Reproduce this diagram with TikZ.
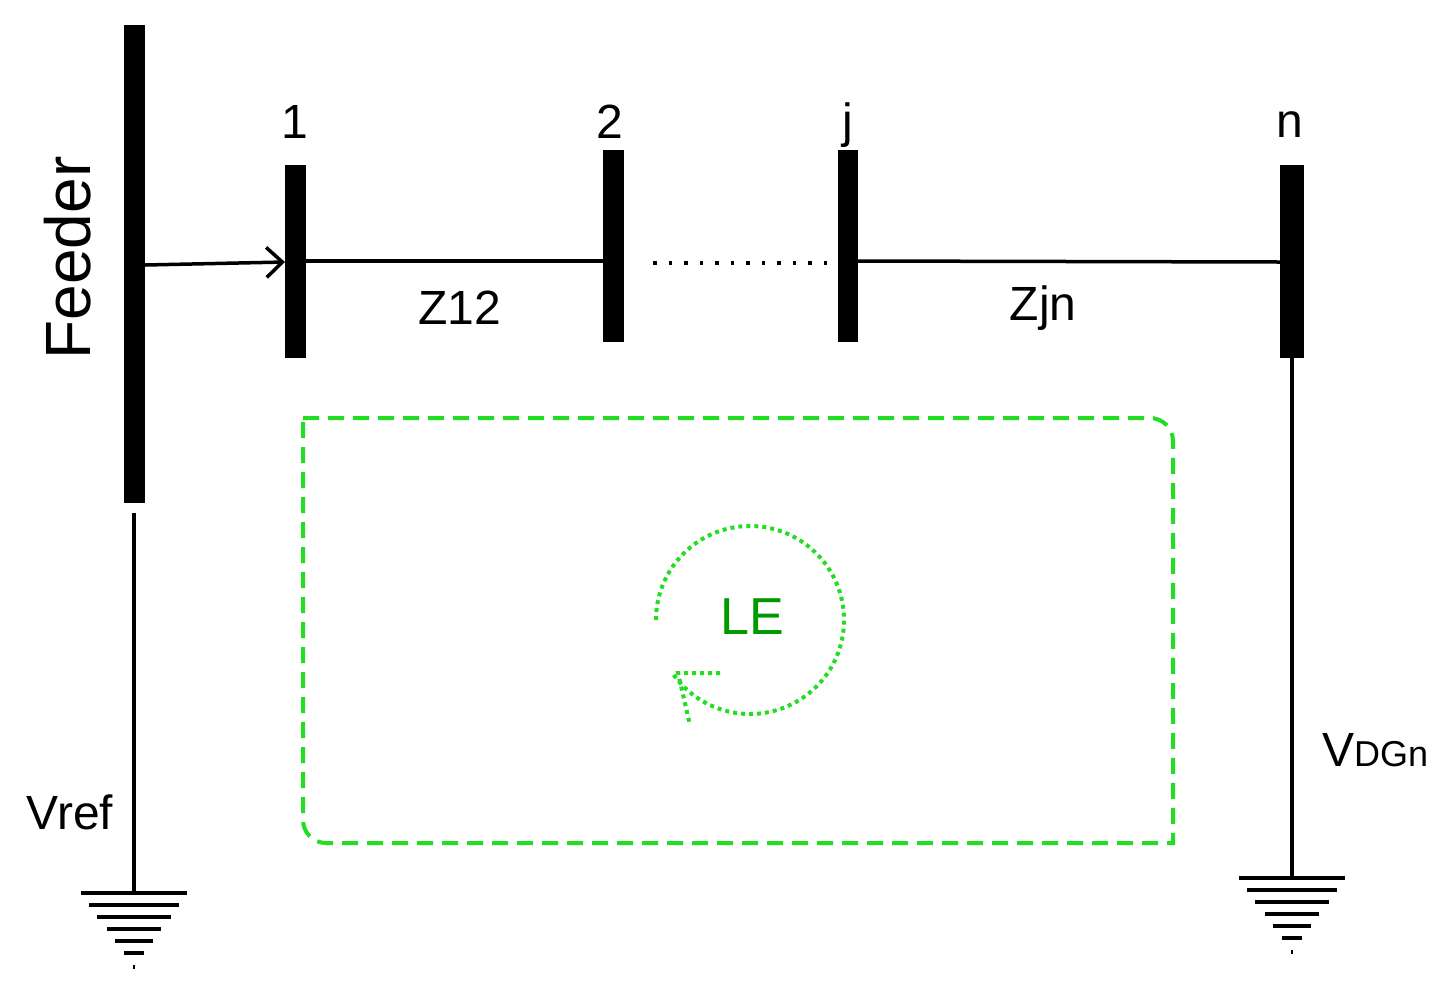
\documentclass[tikz,border=0pt]{standalone}
\usepackage{fontspec}
\setmainfont{Liberation Sans}
\usetikzlibrary{arrows.meta}
\definecolor{lg}{HTML}{22DD22}
\definecolor{dg}{HTML}{009900}
\begin{document}
\begin{tikzpicture}[x=1pt,y=-1pt,
  bus/.style={fill=black,draw=none},
  wire/.style={line width=3.5pt},
  lbl/.style={font=\fontsize{48}{52}\selectfont,inner sep=0pt},
  gnd/.style={line width=4.5pt}]
\useasboundingbox (0,0) rectangle (1448,986);
\fill[bus] (124,25) rectangle (145,503);
\fill[bus] (285,165) rectangle (306,358);
\fill[bus] (603,150) rectangle (624,342);
\fill[bus] (838,150) rectangle (858,342);
\fill[bus] (1280,165) rectangle (1304,358);
\coordinate (f) at (145,265); \coordinate (b1) at (285,262);
\draw[wire,-{Straight Barb[length=16pt,width=30pt,line width=3.5pt]}] (f) -- (b1);
\draw[wire] (306,261) -- (603,261);
\draw[line width=3.5pt,dash pattern=on 3.5pt off 12pt] (653,263) -- (835,263);
\draw[wire] (858,261) -- (1280,262);
\node[lbl,rotate=90] at (68,258) {\fontsize{64}{68}\selectfont Feeder};
\node[lbl] at (295,122) {1};
\node[lbl] at (610,122) {2};
\node[lbl] at (848,125) {j};
\node[lbl] at (1290,125) {n};
\node[lbl] at (460,308) {Z12};
\node[lbl] at (1043,308) {Zjn};
\node[lbl] at (70,812) {Vref};
\node[lbl,anchor=west] at (1322,750) {V\fontsize{36}{40}\selectfont DGn};
% grounds
\draw[wire] (134,513) -- (134,893);
\foreach \y/\w in {0/53,12/45,24/37,36/27,48/19,60/10} {\draw[gnd] (134-\w,893+\y) -- (134+\w,893+\y);}
\draw[line width=2pt] (134,965) -- (134,969);
\draw[wire] (1292,358) -- (1292,878);
\foreach \y/\w in {0/53,12/45,24/37,36/27,48/19,60/10} {\draw[gnd] (1292-\w,878+\y) -- (1292+\w,878+\y);}
\draw[line width=2pt] (1292,950) -- (1292,954);
% loop
\draw[lg,line width=4pt,dash pattern=on 16pt off 9pt] (303,418) -- (1150,418) arc[start angle=90,end angle=0,radius=23pt] -- (1173,843) -- (326,843) arc[start angle=-90,end angle=-180,radius=23pt] -- cycle;
\draw[lg,line width=4pt,dash pattern=on 4pt off 4pt] (656,620) arc[start angle=180,end angle=-145,radius=94pt];
\draw[lg,line width=4pt,dash pattern=on 4pt off 4pt] (720,673) -- (678,673) -- (690,725);
\node[font=\fontsize{52}{56}\selectfont,text=dg,inner sep=0pt] at (752,617) {LE};
\end{tikzpicture}
\end{document}
